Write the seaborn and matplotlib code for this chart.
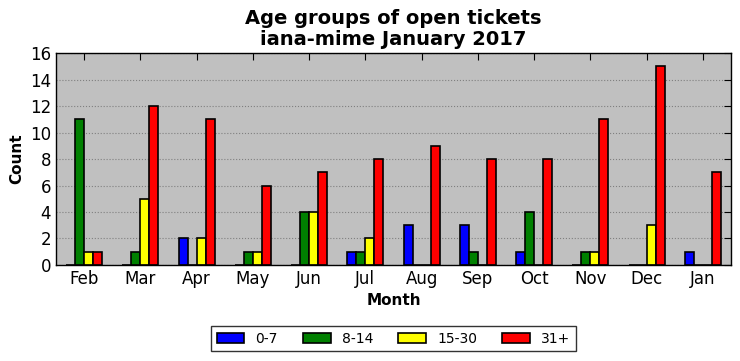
import pandas as pd
import matplotlib.pyplot as plt
import seaborn as sns

# Data
months = ['Feb', 'Mar', 'Apr', 'May', 'Jun', 'Jul', 'Aug', 'Sep', 'Oct', 'Nov', 'Dec', 'Jan']
groups = ['0-7', '8-14', '15-30', '31+']
age_0_7 = [0, 0, 2, 0, 0, 1, 3, 3, 1, 0, 0, 1]
age_8_14 = [11, 1, 0, 1, 4, 1, 0, 1, 4, 1, 0, 0]
age_15_30 = [1, 5, 2, 1, 4, 2, 0, 0, 0, 1, 3, 0]
age_31_plus = [1, 12, 11, 6, 7, 8, 9, 8, 8, 11, 15, 7]
colors = ['blue', 'green', 'yellow', 'red']

# Build long-format table
df = pd.DataFrame({'Month': months, '0-7': age_0_7, '8-14': age_8_14,
                   '15-30': age_15_30, '31+': age_31_plus})
long = df.melt(id_vars='Month', var_name='Age', value_name='Count')

sns.set_style('white')
plt.rcParams['font.family'] = ['DejaVu Sans']
plt.rcParams['text.color'] = 'black'
plt.rcParams['axes.labelcolor'] = 'black'
plt.rcParams['xtick.color'] = 'black'
plt.rcParams['ytick.color'] = 'black'

fig = plt.figure(figsize=(7.4, 3.61), dpi=100)
ax = fig.add_axes([0.0757, 0.266, 0.912, 0.587])
ax.set_facecolor('#c0c0c0')

sns.barplot(data=long, x='Month', y='Count', hue='Age', order=months,
            hue_order=groups, palette=colors, width=0.64, edgecolor='black',
            linewidth=1.2, saturation=1, ax=ax)

ax.set_xlim(-0.5, 11.5)
ax.set_ylim(0, 16)
ax.set_yticks(range(0, 17, 2))
ax.yaxis.grid(True, linestyle=':', color='#808080', linewidth=0.8)
ax.set_axisbelow(True)
ax.tick_params(axis='both', direction='in', top=True, right=True,
               length=5, labelsize=12, color='black', labelcolor='black')
for s in ax.spines.values():
    s.set_color('black')
    s.set_linewidth(1)

ax.set_title('Age groups of open tickets\niana-mime January 2017',
             fontsize=14, fontweight='bold', linespacing=1.1, color='black')
ax.set_xlabel('Month', fontsize=11, fontweight='bold')
ax.set_ylabel('Count', fontsize=11, fontweight='bold')

leg = ax.legend(loc='upper center', bbox_to_anchor=(0.5, -0.255), ncol=4,
                fontsize=10, frameon=True, fancybox=False, edgecolor='black',
                borderpad=0.4, columnspacing=1.8, handlelength=2.0)
leg.get_frame().set_linewidth(1)
for t in leg.get_texts():
    t.set_color('black')

fig.savefig('out.png', dpi=100)
